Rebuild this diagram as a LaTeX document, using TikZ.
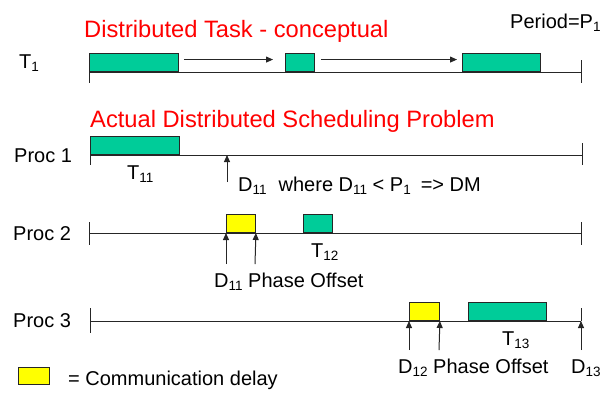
\documentclass[tikz,border=0pt]{standalone}
\usepackage{fontspec}
\setmainfont{Liberation Sans}
\usetikzlibrary{arrows.meta}
\definecolor{tgreen}{RGB}{0,204,153}
\definecolor{tyellow}{RGB}{255,255,0}
\newcommand{\sbs}[1]{\raisebox{-3pt}{\fontsize{13.5}{14}\selectfont #1}}
\begin{document}
\begin{tikzpicture}[x=1pt,y=-1pt,
  txt/.style={anchor=base west, inner sep=0pt, font=\fontsize{20}{22}\selectfont},
  ttl/.style={anchor=base west, inner sep=0pt, text=red, font=\fontsize{23.7}{26}\selectfont},
  tl/.style={line width=1pt, draw=black!85},
  gbox/.style={draw=black!85, line width=0.9pt, fill=tgreen, minimum height=18pt, inner sep=0pt, anchor=south west},
  ybox/.style={gbox, fill=tyellow},
  arr/.style={tl, -{Triangle[length=7pt,width=6pt]}},
]
\useasboundingbox (0,0) rectangle (602,392);

% ---- T1 row
\node[ttl] (title1) at (84,37) {Distributed Task - conceptual};
\node[txt] (period) at (510,28) {Period=P\sbs{1}};
\node[txt] (t1lab) at (19,68) {T\sbs{1}};
\coordinate (t1s) at (89,72); \coordinate (t1e) at (581,72);
\coordinate (t1sb) at (89,83); \coordinate (t1eb) at (581,83); \coordinate (t1et) at (581,60);
\draw[tl] (t1s) -- (t1e);
\draw[tl] (t1s) -- (t1sb);
\draw[tl] (t1et) -- (t1eb);
\node[gbox, minimum width=89pt] (t1a) at (89,72) {};
\node[gbox, minimum width=29pt] (t1b) at (285,72) {};
\node[gbox, minimum width=78pt] (t1c) at (462,72) {};
\draw[arr] ([xshift=5pt,yshift=3pt]t1a.east) -- ([xshift=-12pt,yshift=3pt]t1b.west);
\draw[arr] ([xshift=6pt,yshift=3pt]t1b.east) -- ([xshift=-5pt,yshift=3pt]t1c.west);

% ---- Proc 1
\node[ttl] (title2) at (90,127) {Actual Distributed Scheduling Problem};
\node[txt] (p1lab) at (14,162) {Proc 1};
\coordinate (p1s) at (90,155); \coordinate (p1e) at (582,155);
\coordinate (p1sb) at (90,165); \coordinate (p1eb) at (582,165); \coordinate (p1et) at (582,143);
\draw[tl] (p1s) -- (p1e);
\draw[tl] (p1s) -- (p1sb);
\draw[tl] (p1et) -- (p1eb);
\node[gbox, minimum width=89pt] (p1a) at (90,155) {};
\node[txt] (t11) at (127,179) {T\sbs{11}};
\coordinate (d11b) at (227,182); \coordinate (d11t) at (227,155);
\draw[arr] (d11b) -- (d11t);
\node[txt] (d11txt) at (238,191) {D\sbs{11}\hspace{12pt}where D\sbs{11} < P\sbs{1}\hspace{10pt}=> DM};

% ---- Proc 2
\node[txt] (p2lab) at (13,240) {Proc 2};
\coordinate (p2s) at (89,233); \coordinate (p2e) at (581,233);
\coordinate (p2st) at (89,222); \coordinate (p2sb) at (89,245);
\coordinate (p2et) at (581,222); \coordinate (p2eb) at (581,245);
\draw[tl] (p2s) -- (p2e);
\draw[tl] (p2st) -- (p2sb);
\draw[tl] (p2et) -- (p2eb);
\node[ybox, minimum width=29pt] (p2y) at (226,233) {};
\node[gbox, minimum width=29pt] (p2g) at (303,233) {};
\coordinate (p2a1) at (226,264); \coordinate (p2a2) at (255,264);
\draw[arr] (p2a1) -- (p2y.south west);
\draw[arr] (p2a2) -- (p2y.south east);
\node[txt] (t12) at (311,257) {T\sbs{12}};
\node[txt] (po2) at (214,287) {D\sbs{11} Phase Offset};

% ---- Proc 3
\node[txt] (p3lab) at (13,327) {Proc 3};
\coordinate (p3s) at (90,321); \coordinate (p3e) at (581,321);
\coordinate (p3st) at (90,308); \coordinate (p3sb) at (90,333);
\coordinate (p3et) at (581,308); \coordinate (p3eb) at (581,350);
\draw[tl] (p3s) -- (p3e);
\draw[tl] (p3st) -- (p3sb);
\draw[tl] (p3et) -- (p3e);
\draw[arr] (p3eb) -- (p3e);
\node[ybox, minimum width=30pt] (p3y) at (409,321) {};
\node[gbox, minimum width=78pt] (p3g) at (468,321) {};
\coordinate (p3a1) at (409,350); \coordinate (p3a2) at (439,350);
\draw[arr] (p3a1) -- (p3y.south west);
\draw[arr] (p3a2) -- (p3y.south east);
\node[txt] (t13) at (502,345) {T\sbs{13}};
\node[txt] (po3) at (398,373) {D\sbs{12} Phase Offset};
\node[txt] (d13) at (571,373) {D\sbs{13}};

% ---- legend
\node[ybox, minimum width=31pt, minimum height=17pt] (leg) at (18,385) {};
\node[txt] (legtxt) at (68,385) {= Communication delay};
\end{tikzpicture}
\end{document}
